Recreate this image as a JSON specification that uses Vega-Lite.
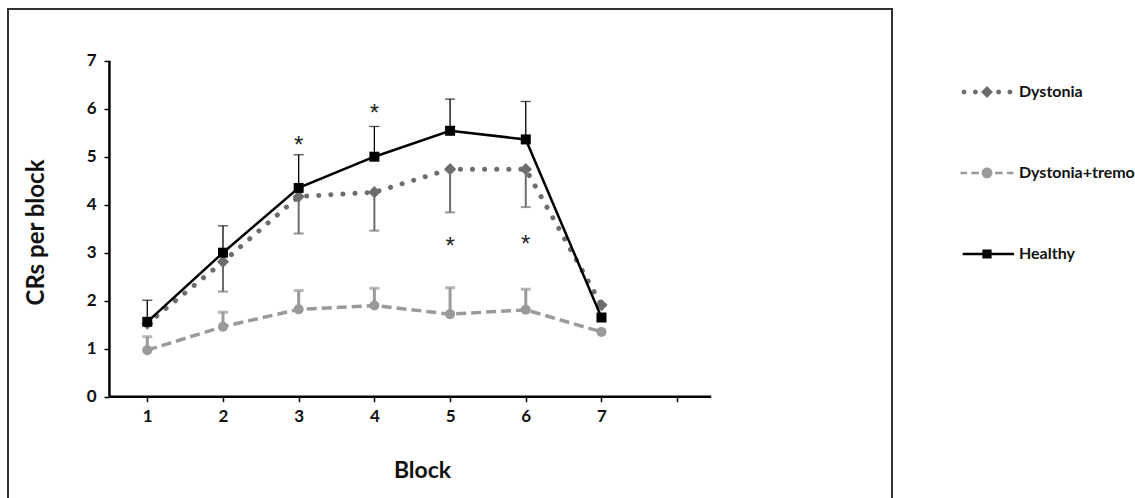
{
  "$schema": "https://vega.github.io/schema/vega-lite/v6.json",
  "autosize": "none",
  "padding": {"left": 8, "top": 9, "right": 243, "bottom": 0},
  "width": 884,
  "height": 496,
  "config": {
    "view": {"stroke": "#333333", "strokeWidth": 2},
    "font": "Lato"
  },
  "datasets": {
    "series": [
      {"block": 1, "group": "Dystonia", "mean": 1.52, "err": null},
      {"block": 2, "group": "Dystonia", "mean": 2.81, "err": 2.19},
      {"block": 3, "group": "Dystonia", "mean": 4.17, "err": 3.4},
      {"block": 4, "group": "Dystonia", "mean": 4.26, "err": 3.46},
      {"block": 5, "group": "Dystonia", "mean": 4.74, "err": 3.84},
      {"block": 6, "group": "Dystonia", "mean": 4.74, "err": 3.95},
      {"block": 7, "group": "Dystonia", "mean": 1.91, "err": null},
      {"block": 1, "group": "Dystonia+tremor", "mean": 0.97, "err": 1.25},
      {"block": 2, "group": "Dystonia+tremor", "mean": 1.46, "err": 1.76},
      {"block": 3, "group": "Dystonia+tremor", "mean": 1.82, "err": 2.21},
      {"block": 4, "group": "Dystonia+tremor", "mean": 1.9, "err": 2.26},
      {"block": 5, "group": "Dystonia+tremor", "mean": 1.72, "err": 2.27},
      {"block": 6, "group": "Dystonia+tremor", "mean": 1.81, "err": 2.24},
      {"block": 7, "group": "Dystonia+tremor", "mean": 1.35, "err": null},
      {"block": 1, "group": "Healthy", "mean": 1.56, "err": 2.01},
      {"block": 2, "group": "Healthy", "mean": 3.0, "err": 3.56},
      {"block": 3, "group": "Healthy", "mean": 4.35, "err": 5.04},
      {"block": 4, "group": "Healthy", "mean": 5.0, "err": 5.63},
      {"block": 5, "group": "Healthy", "mean": 5.54, "err": 6.2},
      {"block": 6, "group": "Healthy", "mean": 5.36, "err": 6.15},
      {"block": 7, "group": "Healthy", "mean": 1.65, "err": null}
    ],
    "stars": [
      {"block": 3, "y": 5.33, "label": "*"},
      {"block": 4, "y": 5.99, "label": "*"},
      {"block": 5, "y": 3.22, "label": "*"},
      {"block": 6, "y": 3.26, "label": "*"}
    ],
    "axislines": [
      {"x": 0.5, "x2": 8.45, "y": 0, "y2": 0},
      {"x": 0.5, "x2": 0.5, "y": 0, "y2": 7}
    ]
  },
  "encoding": {
    "x": {
      "field": "block", "type": "quantitative",
      "scale": {"domain": [-0.84, 10.838], "nice": false, "zero": false},
      "axis": {
        "orient": "bottom", "offset": -108.3, "values": [1, 2, 3, 4, 5, 6, 7, 8],
        "labelExpr": "datum.value <= 7 ? datum.label : ''",
        "domain": false, "grid": false, "tickSize": 5, "tickWidth": 1.5, "tickColor": "#000",
        "labelFont": "Lato", "labelFontWeight": "bold", "labelFontSize": 17, "labelColor": "#111",
        "labelPadding": 7,
        "title": "Block", "titleFont": "Lato", "titleFontWeight": "bold", "titleFontSize": 23, "titleColor": "#111",
        "titleX": 414, "titleY": 74, "titleBaseline": "middle", "titleAnchor": "middle"
      }
    },
    "y": {
      "field": "mean", "type": "quantitative",
      "scale": {"domain": [-2.256, 8.077], "nice": false, "zero": false},
      "axis": {
        "orient": "left", "offset": -101, "values": [0, 1, 2, 3, 4, 5, 6, 7],
        "domain": false, "grid": false, "tickSize": 5, "tickWidth": 1.5, "tickColor": "#000",
        "labelFont": "Lato", "labelFontWeight": "bold", "labelFontSize": 17, "labelColor": "#111",
        "labelPadding": 8,
        "title": "CRs per block", "titleFont": "Lato", "titleFontWeight": "bold", "titleFontSize": 24, "titleColor": "#111",
        "titleX": -73, "titleY": 223, "titleBaseline": "middle", "titleAnchor": "middle"
      }
    },
    "color": {"field": "group", "type": "nominal",
      "scale": {"domain": ["Dystonia", "Dystonia+tremor", "Healthy"], "range": ["#6d6d6d", "#9a9a9a", "#000000"]},
      "legend": {
        "orient": "none", "legendX": 952, "legendY": 56,
        "title": null, "symbolSize": 2916, "rowPadding": 46, "symbolType": "square",
        "labelFont": "Lato", "labelFontWeight": "bold", "labelFontSize": 16, "labelColor": "#111",
        "labelOffset": 5, "labelLimit": 400,
        "encode": {
          "symbols": {
            "update": {
              "shape": {"signal": "datum.value === 'Healthy' ? 'M-0.9,-0.05H1V0.05H-0.9ZM-0.17,-0.17H0.17V0.17H-0.17Z' : datum.value === 'Dystonia' ? 'M-0.94,0a0.09,0.09 0 1,0 0.18,0a0.09,0.09 0 1,0 -0.18,0ZM-0.52,0a0.09,0.09 0 1,0 0.18,0a0.09,0.09 0 1,0 -0.18,0ZM0.34,0a0.09,0.09 0 1,0 0.18,0a0.09,0.09 0 1,0 -0.18,0ZM0.76,0a0.09,0.09 0 1,0 0.18,0a0.09,0.09 0 1,0 -0.18,0ZM0,-0.22L0.22,0L0,0.22L-0.22,0Z' : 'M-0.98,-0.05H-0.74V0.05H-0.98ZM-0.58,-0.05H-0.3V0.05H-0.58ZM0.3,-0.05H0.58V0.05H0.3ZM0.74,-0.05H0.98V0.05H0.74ZM-0.2,0a0.2,0.2 0 1,0 0.4,0a0.2,0.2 0 1,0 -0.4,0Z'"},
              "fill": {"signal": "datum.value === 'Healthy' ? '#000000' : datum.value === 'Dystonia' ? '#6d6d6d' : '#9a9a9a'"},
              "fillOpacity": {"value": 1},
              "opacity": {"value": 1},
              "strokeWidth": {"value": 0},
              "size": {"value": 2916}
            }
          }
        }
      }
    }
  },
  "layer": [
    {
      "data": {"name": "axislines"},
      "mark": {"type": "rule", "color": "#000", "strokeWidth": 2.5},
      "encoding": {
        "x": {"field": "x", "type": "quantitative"},
        "x2": {"field": "x2"},
        "y": {"field": "y", "type": "quantitative"},
        "y2": {"field": "y2"},
        "color": {"value": "#000"}
      }
    },
    {
      "data": {"name": "series"},
      "transform": [{"filter": "datum.group === 'Dystonia+tremor'"}],
      "mark": {"type": "line", "strokeWidth": 3.5, "strokeDash": [10, 5]},
      "encoding": {"order": {"field": "block"}}
    },
    {
      "data": {"name": "series"},
      "transform": [{"filter": "datum.group === 'Dystonia+tremor' && isValid(datum.err)"}],
      "mark": {"type": "rule", "strokeWidth": 3},
      "encoding": {"y2": {"field": "err"}}
    },
    {
      "data": {"name": "series"},
      "transform": [{"filter": "datum.group === 'Dystonia+tremor' && isValid(datum.err)"}],
      "mark": {"type": "tick", "orient": "horizontal", "size": 10, "thickness": 3},
      "encoding": {"y": {"field": "err", "type": "quantitative"}}
    },
    {
      "data": {"name": "series"},
      "transform": [{"filter": "datum.group === 'Dystonia+tremor'"}],
      "mark": {"type": "point", "filled": true, "opacity": 1, "shape": "circle", "size": 100}
    },
    {
      "data": {"name": "series"},
      "transform": [{"filter": "datum.group === 'Dystonia'"}],
      "mark": {"type": "line", "strokeWidth": 5, "strokeDash": [0.1, 12], "strokeCap": "round"},
      "encoding": {"order": {"field": "block"}}
    },
    {
      "data": {"name": "series"},
      "transform": [{"filter": "datum.group === 'Dystonia' && isValid(datum.err)"}],
      "mark": {"type": "rule", "strokeWidth": 2},
      "encoding": {"y2": {"field": "err"}}
    },
    {
      "data": {"name": "series"},
      "transform": [{"filter": "datum.group === 'Dystonia' && isValid(datum.err)"}],
      "mark": {"type": "tick", "orient": "horizontal", "size": 10, "thickness": 2},
      "encoding": {"y": {"field": "err", "type": "quantitative"}}
    },
    {
      "data": {"name": "series"},
      "transform": [{"filter": "datum.group === 'Dystonia'"}],
      "mark": {"type": "point", "filled": true, "opacity": 1, "shape": "diamond", "size": 150}
    },
    {
      "data": {"name": "series"},
      "transform": [{"filter": "datum.group === 'Healthy'"}],
      "mark": {"type": "line", "strokeWidth": 2.5},
      "encoding": {"order": {"field": "block"}}
    },
    {
      "data": {"name": "series"},
      "transform": [{"filter": "datum.group === 'Healthy' && isValid(datum.err)"}],
      "mark": {"type": "rule", "strokeWidth": 1.3},
      "encoding": {"y2": {"field": "err"}}
    },
    {
      "data": {"name": "series"},
      "transform": [{"filter": "datum.group === 'Healthy' && isValid(datum.err)"}],
      "mark": {"type": "tick", "orient": "horizontal", "size": 10, "thickness": 1.3},
      "encoding": {"y": {"field": "err", "type": "quantitative"}}
    },
    {
      "data": {"name": "series"},
      "transform": [{"filter": "datum.group === 'Healthy'"}],
      "mark": {"type": "point", "filled": true, "opacity": 1, "shape": "square", "size": 100}
    },
    {
      "data": {"name": "stars"},
      "mark": {"type": "text", "fontSize": 24, "font": "Liberation Sans", "baseline": "middle", "dy": 5},
      "encoding": {
        "y": {"field": "y", "type": "quantitative"},
        "text": {"field": "label"},
        "color": {"value": "#222222"}
      }
    }
  ]
}
